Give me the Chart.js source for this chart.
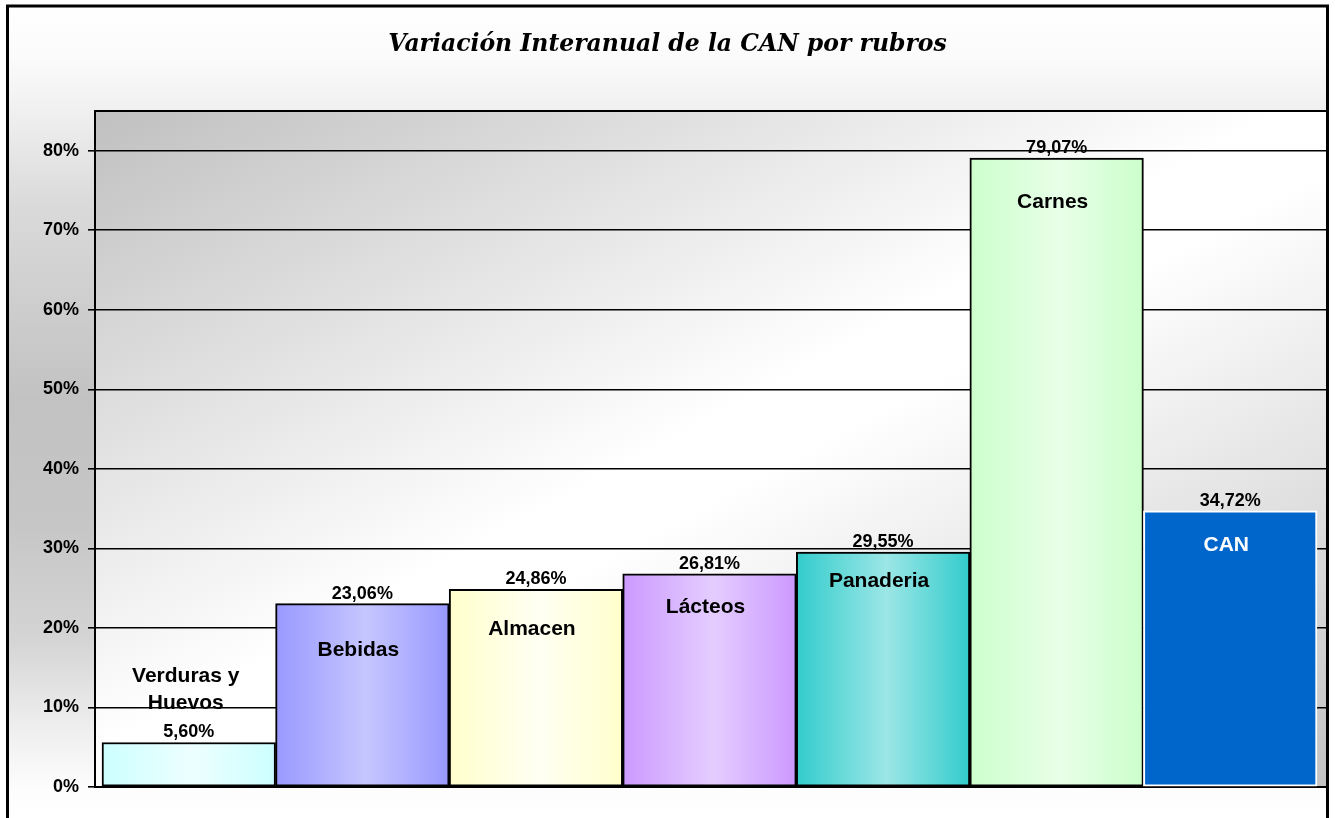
<!DOCTYPE html>
<html>
<head>
<meta charset="utf-8">
<script src="https://cdn.jsdelivr.net/npm/chart.js@4.4.0/dist/chart.umd.min.js"></script>
<style>
    html, body { margin: 0; padding: 0; background: #fff; overflow: hidden; }
    #contenedor { width: 1335px; height: 818px; position: relative; }
</style>
</head>
<body>
<div id="contenedor"><canvas id="graficoCAN"></canvas></div>
<script>
const titulo = 'Variación Interanual de la CAN por rubros';
const rubros = [['Verduras y', 'Huevos'], 'Bebidas', 'Almacen', 'Lácteos', 'Panaderia', 'Carnes', 'CAN'];
const variacion = [5.60, 23.06, 24.86, 26.81, 29.55, 79.07, 34.72];
const ticksY = [0, 10, 20, 30, 40, 50, 60, 70, 80];

// colores de cada barra (borde del degradado y centro claro)
const coresBase = ['#ccffff', '#9999ff', '#ffffcc', '#cc99ff', '#33cccc', '#ccffcc', '#0066cc'];
const coresClaras = ['#edffff', '#c6c6ff', '#fffff3', '#e4cdff', '#9ce6e6', '#e8ffe8', '#0066cc'];
const coresBorde = ['#000', '#000', '#000', '#000', '#000', '#000', '#fff'];
const coresTexto = ['#000', '#000', '#000', '#000', '#000', '#000', '#fff'];
// distancia (px) entre el tope de la barra y el tope del rótulo
const bajadaRotulo = [0, 37, 31, 24, 20, 35, 25];

const FUENTE = '"Liberation Sans", Arial, sans-serif';

function formatea(v) {
    return v.toFixed(2).replace('.', ',') + '%';
}

function rellenoBarra(context) {
    const i = context.dataIndex;
    const chart = context.chart;
    if (i === undefined) return '#cccccc';
    if (!chart.chartArea || coresBase[i] === coresClaras[i]) return coresBase[i];
    const escala = chart.scales.x;
    const cx = escala.getPixelForValue(i);
    const mitad = escala._length / rubros.length / 2;
    const g = chart.ctx.createLinearGradient(cx - mitad, 0, cx + mitad, 0);
    g.addColorStop(0, coresBase[i]);
    g.addColorStop(0.52, coresClaras[i]);
    g.addColorStop(1, coresBase[i]);
    return g;
}

const fondoPlugin = {
    id: 'fondo',
    afterLayout(chart) {
        // las barras empiezan un poco adentro del eje, como en Excel
        const s = chart.scales.x;
        s._startPixel = s.left + 7;
        s._endPixel = s.right - 9;
        s._length = s._endPixel - s._startPixel;
    },
    beforeDraw(chart) {
        const { ctx, width, height, chartArea: a } = chart;
        ctx.save();
        ctx.fillStyle = '#fff';
        ctx.fillRect(0, 0, width, height);
        const f = ctx.createLinearGradient(0, 0, 0, height);
        f.addColorStop(0, '#ffffff');
        f.addColorStop(0.07, '#fbfbfb');
        f.addColorStop(0.135, '#f0f0f0');
        f.addColorStop(0.25, '#dadada');
        f.addColorStop(0.49, '#c2c2c2');
        f.addColorStop(0.64, '#c6c6c6');
        f.addColorStop(0.78, '#d4d4d4');
        f.addColorStop(0.88, '#ececec');
        f.addColorStop(0.965, '#fdfdfd');
        f.addColorStop(1, '#ffffff');
        ctx.fillStyle = f;
        ctx.fillRect(8, 6, 1320, height);

        // fondo del área de trazado: gris arriba a la izquierda, blanco al centro, gris abajo a la derecha
        const g = ctx.createLinearGradient(a.left, a.top, a.left + 570, a.top + 1056);
        g.addColorStop(0, '#c0c0c0');
        g.addColorStop(0.47, '#ffffff');
        g.addColorStop(0.53, '#ffffff');
        g.addColorStop(1, '#c0c0c0');
        ctx.fillStyle = g;
        ctx.fillRect(a.left, a.top, a.right - a.left, a.bottom - a.top);
        ctx.restore();
    },
    beforeDatasetsDraw(chart) {
        const { ctx, chartArea: a } = chart;
        ctx.save();
        ctx.strokeStyle = '#000';
        ctx.lineWidth = 2;
        ctx.beginPath();
        ctx.moveTo(a.left - 1, a.top);
        ctx.lineTo(a.right, a.top);
        ctx.stroke();
        ctx.restore();
    },
    afterDraw(chart) {
        const { ctx, width } = chart;
        ctx.save();
        ctx.fillStyle = '#000';
        ctx.font = 'bold italic 23.5px "DejaVu Serif", serif';
        ctx.textAlign = 'center';
        ctx.textBaseline = 'alphabetic';
        ctx.fillText(titulo, width / 2, 51);
        // marco exterior
        ctx.strokeStyle = '#000';
        ctx.lineWidth = 3;
        ctx.strokeRect(7.5, 6, 1320, 900);
        ctx.restore();
    }
};

const rotulosPlugin = {
    id: 'rotulos',
    afterDatasetsDraw(chart) {
        const { ctx } = chart;
        const meta = chart.getDatasetMeta(0);
        ctx.save();
        ctx.textAlign = 'center';
        ctx.textBaseline = 'alphabetic';
        meta.data.forEach((barra, i) => {
            const tope = barra.y;
            const baseValor = tope - 5;
            ctx.fillStyle = '#000';
            ctx.font = 'bold 18px ' + FUENTE;
            ctx.fillText(formatea(variacion[i]), barra.x, baseValor);

            const lineas = Array.isArray(rubros[i]) ? rubros[i] : [rubros[i]];
            ctx.font = 'bold 21px ' + FUENTE;
            if (barra.base - tope < 60) {
                // barra baja: el nombre va encima del valor
                lineas.forEach((l, k) => {
                    const y = baseValor - 28 - (lineas.length - 1 - k) * 27;
                    ctx.fillText(l, barra.x - 3, y);
                });
            } else {
                ctx.fillStyle = coresTexto[i];
                lineas.forEach((l, k) => {
                    ctx.fillText(l, barra.x - 4, tope + bajadaRotulo[i] + 15 + k * 27);
                });
            }
        });
        ctx.restore();
    }
};

new Chart(document.getElementById('graficoCAN'), {
    type: 'bar',
    data: {
        labels: rubros,
        datasets: [{
            data: variacion,
            backgroundColor: rellenoBarra,
            borderColor: coresBorde,
            borderWidth: 2,
            borderSkipped: false,
            categoryPercentage: 1,
            barPercentage: 1
        }]
    },
    options: {
        responsive: true,
        maintainAspectRatio: false,
        animation: false,
        layout: { padding: { top: 111, right: 9, bottom: 0, left: 0 } },
        plugins: {
            legend: { display: false },
            title: { display: false },
            tooltip: { enabled: false }
        },
        scales: {
            x: {
                grid: { display: false },
                ticks: { display: false },
                border: { display: true, color: '#000', width: 2 },
                afterFit: s => { s.height = 31; }
            },
            y: {
                min: 0,
                max: 85,
                afterBuildTicks: s => { s.ticks = ticksY.map(v => ({ value: v })); },
                afterFit: s => { s.width = 95; },
                grid: { color: '#000', lineWidth: 1.6, tickLength: 7, drawTicks: true },
                border: { display: true, color: '#000', width: 2 },
                ticks: {
                    color: '#000',
                    padding: 9,
                    font: { family: FUENTE, size: 18, weight: 'bold' },
                    callback: v => v + '%'
                }
            }
        }
    },
    plugins: [fondoPlugin, rotulosPlugin]
});
</script>
</body>
</html>
